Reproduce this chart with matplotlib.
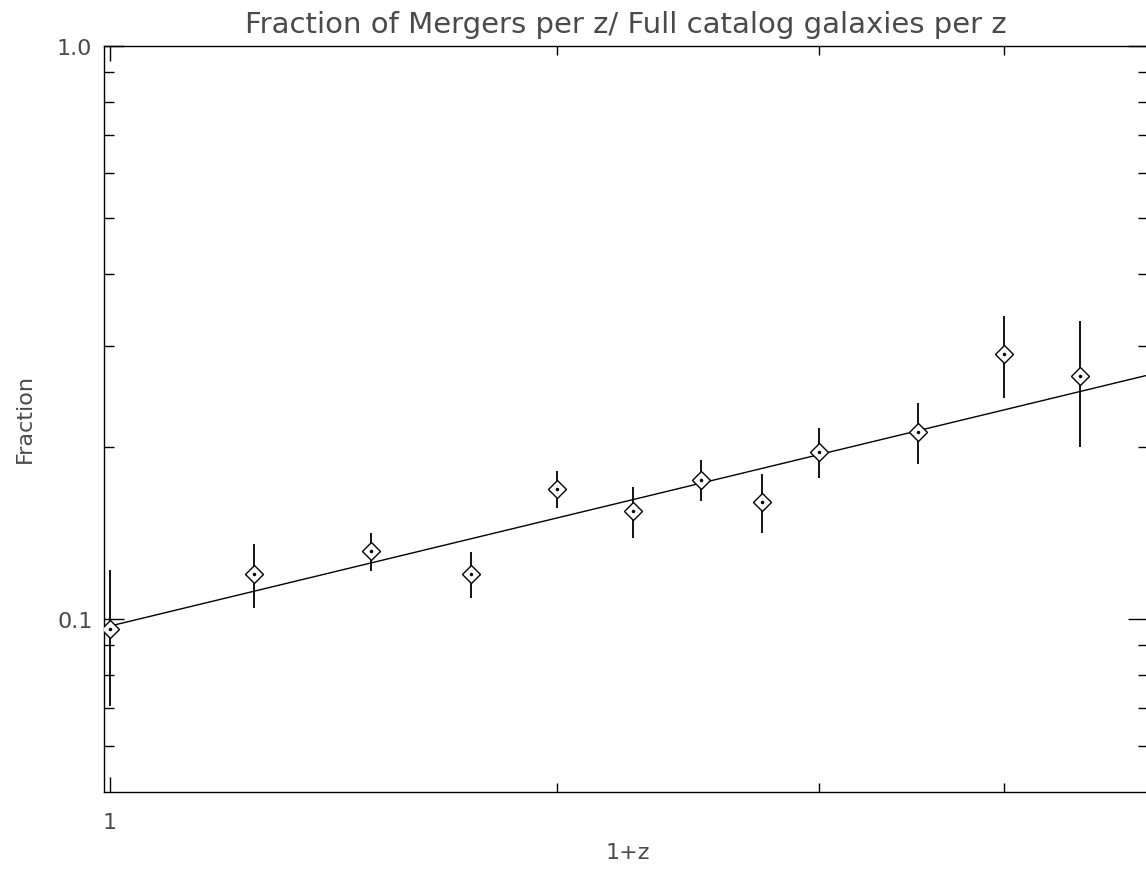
import numpy as np
import matplotlib
matplotlib.use("Agg")
import matplotlib.pyplot as plt
from matplotlib.ticker import FixedLocator, FixedFormatter, NullFormatter

# data
one_plus_z = [1.0, 1.25, 1.5, 1.75, 2.0, 2.25, 2.5, 2.75, 3.0, 3.5, 4.0, 4.5]
fraction = [0.0960, 0.1198, 0.1313, 0.1198, 0.1686, 0.1542,
            0.1750, 0.1602, 0.1960, 0.2123, 0.2901, 0.2655]
frac_err = [0.0256, 0.0152, 0.0101, 0.0110, 0.0126, 0.0156,
            0.0145, 0.0188, 0.0197, 0.0260, 0.0474, 0.0656]

# power-law fit, straight on log-log: end points
fit_x = [0.99, 5.0]
fit_y = [0.0966, 0.2665]

text_col = "#4a4a4a"
plt.rcParams["font.family"] = ["DejaVu Sans"]

fig = plt.figure(figsize=(11.46, 8.7), dpi=100)
ax = fig.add_axes([103.5 / 1146, 77.5 / 870, 1044.5 / 1146, 745.5 / 870])

ax.plot(fit_x, fit_y, color="black", lw=1.0, zorder=2)
ax.errorbar(one_plus_z, fraction, yerr=frac_err, fmt="none",
            ecolor="black", elinewidth=1.3, capsize=0, zorder=3)
ax.plot(one_plus_z, fraction, ls="none", marker="D", ms=9,
        mfc="white", mec="black", mew=1.0, zorder=4)
ax.plot(one_plus_z, fraction, ls="none", marker="o", ms=1.5,
        color="black", zorder=5)

ax.set_xscale("log")
ax.set_yscale("log")
ax.set_xlim(0.99, 5.0)
ax.set_ylim(0.05, 1.0)

ax.xaxis.set_major_locator(FixedLocator([1]))
ax.xaxis.set_major_formatter(FixedFormatter(["1"]))
ax.xaxis.set_minor_locator(FixedLocator([2, 3, 4]))
ax.xaxis.set_minor_formatter(NullFormatter())

ax.yaxis.set_major_locator(FixedLocator([0.1, 1.0]))
ax.yaxis.set_major_formatter(FixedFormatter(["0.1", "1.0"]))
ax.yaxis.set_minor_locator(FixedLocator([0.06, 0.07, 0.08, 0.09,
                                         0.2, 0.3, 0.4, 0.5, 0.6, 0.7, 0.8, 0.9]))
ax.yaxis.set_minor_formatter(NullFormatter())

ax.tick_params(axis="both", which="both", direction="in",
               top=True, right=True, colors="black", labelcolor=text_col,
               labelsize=16, width=1.0)
ax.tick_params(axis="x", which="major", length=11, pad=15)
ax.tick_params(axis="x", which="minor", length=6.5)
ax.tick_params(axis="y", which="major", length=14.5, pad=8)
ax.tick_params(axis="y", which="minor", length=7.2)

for sp in ax.spines.values():
    sp.set_linewidth(1.0)
    sp.set_color("black")

ax.set_xlabel("1+z", fontsize=16, color=text_col, va="center")
ax.xaxis.set_label_coords(0.502, -0.0812)
ax.set_ylabel("Fraction", fontsize=16, color=text_col, va="center")
ax.yaxis.set_label_coords(-0.0752, 0.502)

fig.text(625.5 / 1146, 1 - 33 / 870,
         "Fraction of Mergers per z/ Full catalog galaxies per z",
         ha="center", va="baseline", fontsize=21, color=text_col)

fig.savefig("out.png", dpi=100)
